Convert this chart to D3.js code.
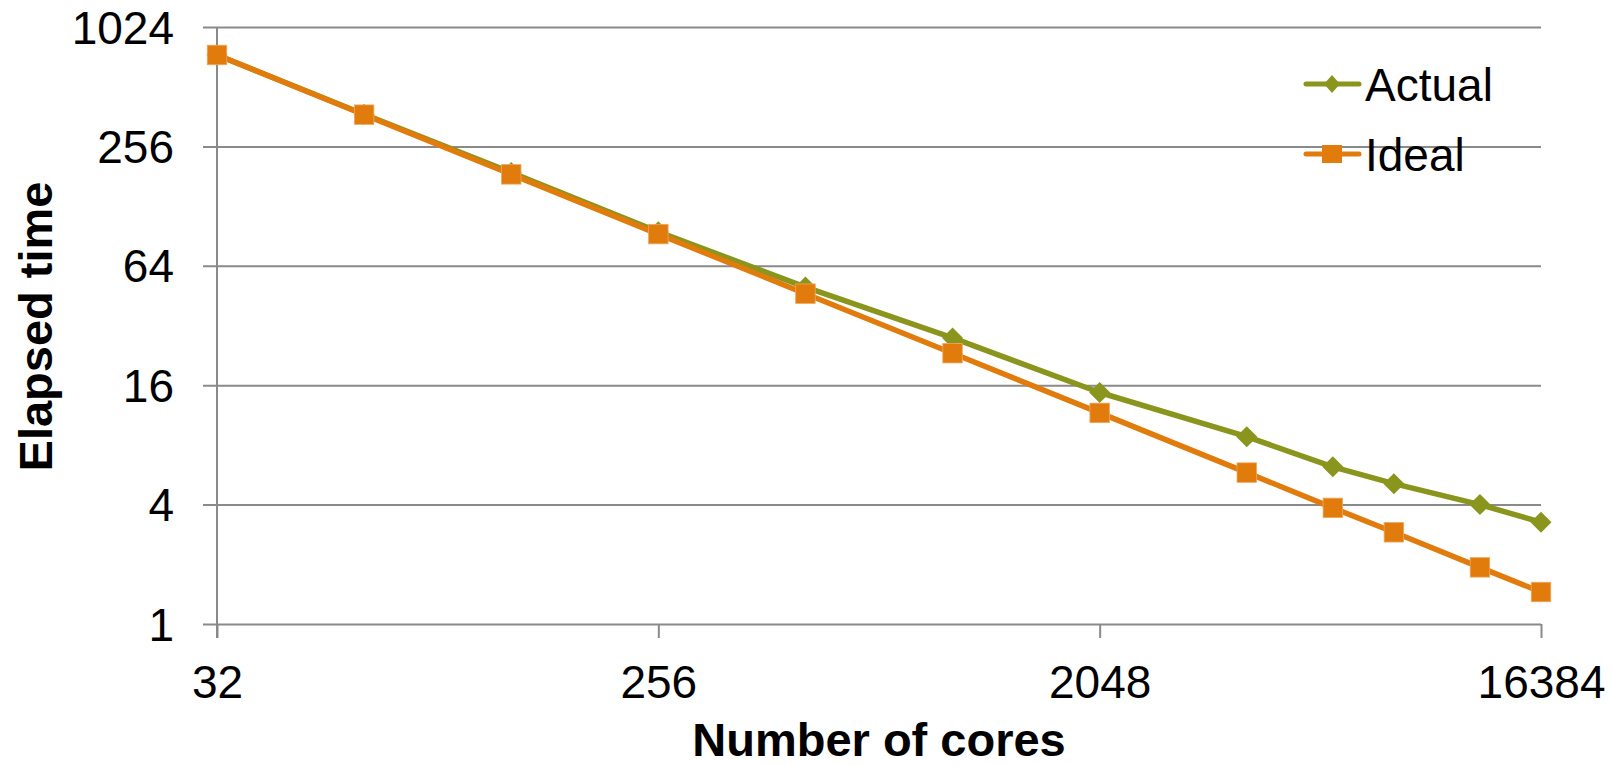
<!DOCTYPE html>
<html>
<head>
<meta charset="utf-8">
<script src="https://cdn.jsdelivr.net/npm/d3@7"></script>
<style>
  html, body { margin: 0; padding: 0; background: #fff; }
  svg { display: block; font-family: "Liberation Sans", Arial, sans-serif; }
</style>
</head>
<body>
<svg id="chart" width="1614" height="765"></svg>
<script>
// Strong-scaling run: elapsed time against core count
const cores = [32, 64, 128, 256, 512, 1024, 2048, 4096, 6144, 8192, 12288, 16384];
const actual = [740, 372, 189, 95, 50, 27.7, 14.7, 8.8, 6.2, 5.1, 4.0, 3.26];
const ideal = [740, 370, 185, 92.5, 46.3, 23.2, 11.6, 5.8, 3.85, 2.9, 1.93, 1.45];
const xTicks = [32, 256, 2048, 16384];
const yTicks = [1, 4, 16, 64, 256, 1024];
const seriesNames = ["Actual", "Ideal"];
const seriesColors = ["#8A951D", "#E07B0C"];

const svg = d3.select("#chart");
const m = { left: 217, right: 1541, top: 27, bottom: 624 };

const x = d3.scaleLog().base(2).domain([32, 16384]).range([m.left, m.right]);
const y = d3.scaleLog().base(2).domain([1, 1024]).range([m.bottom, m.top]);

const grey = "#8a8a8a";

// horizontal gridlines with left tick stubs
svg.append("g")
  .attr("transform", `translate(${m.left},0)`)
  .call(d3.axisLeft(y).tickValues(yTicks).tickFormat(d3.format("d")))
  .call(g => g.select(".domain").remove())
  .call(g => g.selectAll(".tick line")
        .attr("x1", -14).attr("x2", m.right - m.left)
        .attr("stroke", grey).attr("stroke-width", 2))
  .call(g => g.selectAll(".tick text")
        .attr("x", -43).attr("dy", "0.35em")
        .attr("text-anchor", "end")
        .attr("fill", "#000").style("font-size", "46px"));

// x axis ticks and labels
svg.append("g")
  .attr("transform", `translate(0,${m.bottom})`)
  .call(d3.axisBottom(x).tickValues(xTicks).tickFormat(d3.format("d"))
        .tickSize(14).tickPadding(27))
  .call(g => g.select(".domain").remove())
  .call(g => g.selectAll(".tick line").attr("stroke", grey).attr("stroke-width", 2))
  .call(g => g.selectAll(".tick text").attr("fill", "#000").style("font-size", "46px"));

// vertical axis line
svg.append("line")
  .attr("x1", m.left).attr("x2", m.left).attr("y1", m.top).attr("y2", m.bottom + 14)
  .attr("stroke", grey).attr("stroke-width", 2);

// axis titles
svg.append("text")
  .attr("x", (m.left + m.right) / 2).attr("y", 756)
  .attr("text-anchor", "middle")
  .style("font-size", "47px").style("font-weight", "bold")
  .text("Number of cores");

svg.append("text")
  .attr("transform", `translate(52,${(m.top + m.bottom) / 2 + 1}) rotate(-90)`)
  .attr("text-anchor", "middle")
  .style("font-size", "47px").style("font-weight", "bold")
  .text("Elapsed time");

const line = d3.line().x(d => x(d[0])).y(d => y(d[1]));
const series = [actual, ideal].map(v => cores.map((c, i) => [c, v[i]]));

const diamondPath = (cx, cy, rx, ry) =>
  `M${cx},${cy - ry}L${cx + rx},${cy}L${cx},${cy + ry}L${cx - rx},${cy}Z`;

// Actual series: line and diamond markers
svg.append("path").datum(series[0])
  .attr("d", line).attr("fill", "none")
  .attr("stroke", seriesColors[0]).attr("stroke-width", 5.5)
  .attr("stroke-linejoin", "round");
svg.append("g").selectAll("path").data(series[0]).join("path")
  .attr("d", d => diamondPath(x(d[0]), y(d[1]), 10.5, 10.5))
  .attr("fill", seriesColors[0]);

// Ideal series: line and square markers
svg.append("path").datum(series[1])
  .attr("d", line).attr("fill", "none")
  .attr("stroke", seriesColors[1]).attr("stroke-width", 5.5)
  .attr("stroke-linejoin", "round");
svg.append("g").selectAll("rect").data(series[1]).join("rect")
  .attr("x", d => x(d[0]) - 9.75).attr("y", d => y(d[1]) - 9.75)
  .attr("width", 19.5).attr("height", 19.5)
  .attr("fill", seriesColors[1]).attr("stroke", "#F0A75E").attr("stroke-width", 0.8);

// legend
const legY = [84, 154];
seriesNames.forEach((name, i) => {
  const g = svg.append("g");
  g.append("line")
    .attr("x1", 1306).attr("x2", 1359).attr("y1", legY[i]).attr("y2", legY[i])
    .attr("stroke", seriesColors[i]).attr("stroke-width", 5).attr("stroke-linecap", "round");
  if (i === 0) {
    g.append("path").attr("d", diamondPath(1332, legY[i], 8, 9)).attr("fill", seriesColors[0]);
  } else {
    g.append("rect").attr("x", 1322).attr("y", legY[i] - 9).attr("width", 20).attr("height", 18)
      .attr("fill", seriesColors[1]);
  }
  g.append("text").attr("x", 1365).attr("y", legY[i] + 17)
    .style("font-size", "46px").text(name);
});
</script>
</body>
</html>
